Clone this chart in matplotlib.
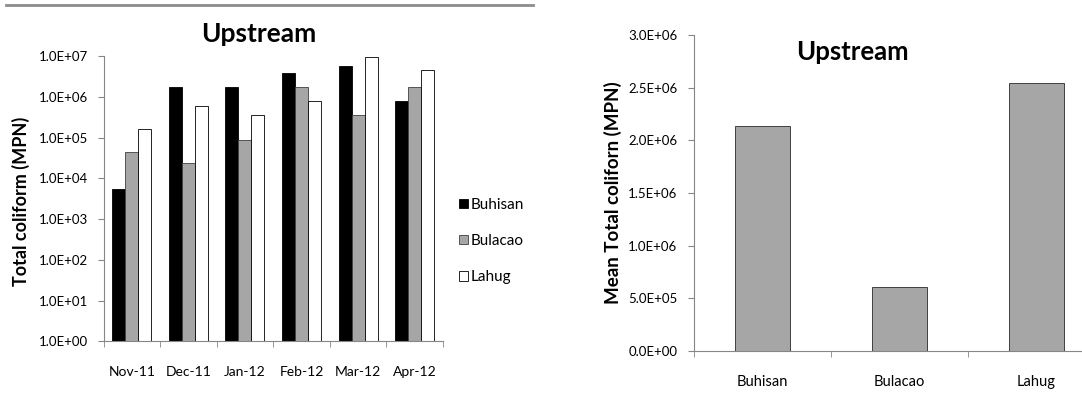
import matplotlib
matplotlib.use("Agg")
import matplotlib.pyplot as plt
import numpy as np
from matplotlib.ticker import FuncFormatter, FixedLocator, LogLocator, NullLocator

plt.rcParams["font.family"] = ["Lato", "DejaVu Sans"]

# 月度总大肠菌群（MPN）
months = ["Nov-11", "Dec-11", "Jan-12", "Feb-12", "Mar-12", "Apr-12"]
buhisan = [5.5e3, 1.7e6, 1.7e6, 3.8e6, 5.8e6, 8.1e5]
bulacao = [4.5e4, 2.4e4, 8.8e4, 1.7e6, 3.6e5, 1.7e6]
lahug = [1.6e5, 5.8e5, 3.6e5, 7.7e5, 9.2e6, 4.6e6]

# 各站点平均值
stations = ["Buhisan", "Bulacao", "Lahug"]
mean_tc = [2.14e6, 6.1e5, 2.54e6]

W, H = 1082, 399
axis_gray = "#868686"
sci_fmt = FuncFormatter(lambda v, p: f"{v:.1E}")

fig = plt.figure(figsize=(W / 100, H / 100), dpi=100)

# 顶部分隔线
fig.add_artist(plt.Line2D([6 / W, 533 / W], [394 / H, 394 / H],
                          color="#8c8c8c", lw=2, transform=fig.transFigure))

# 左图：对数坐标分组柱状图
ax1 = fig.add_axes([103.5 / W, 57.6 / H, 339.5 / W, 285.4 / H])
x = np.arange(len(months))
w = 0.23
ax1.bar(x - w, buhisan, w, color="black", edgecolor="black", lw=0.6, label="Buhisan")
ax1.bar(x, bulacao, w, color="#a6a6a6", edgecolor="#404040", lw=0.6, label="Bulacao")
ax1.bar(x + w, lahug, w, color="white", edgecolor="black", lw=0.6, label="Lahug")
ax1.set_yscale("log")
ax1.set_ylim(1, 1e7)
ax1.set_xlim(-0.5, len(months) - 0.5)
ax1.yaxis.set_major_locator(LogLocator(base=10, numticks=10))
ax1.yaxis.set_minor_locator(NullLocator())
ax1.yaxis.set_major_formatter(sci_fmt)
ax1.set_xticks(x)
ax1.set_xticklabels(months)
ax1.xaxis.set_minor_locator(FixedLocator(np.arange(-0.5, len(months), 1.0)))
ax1.tick_params(axis="x", which="major", length=0, pad=18, labelsize=10)
ax1.tick_params(axis="x", which="minor", length=4, color=axis_gray)
ax1.tick_params(axis="y", length=4, color=axis_gray, labelsize=9.5, pad=7)
for s in ["top", "right"]:
    ax1.spines[s].set_visible(False)
for s in ["left", "bottom"]:
    ax1.spines[s].set_color(axis_gray)
fig.text(21 / W, 1 - 201 / H, "Total coliform (MPN)", rotation=90, ha="center",
         va="center", fontsize=13, fontweight="bold")
fig.text(259 / W, 1 - 34.5 / H, "Upstream", ha="center", va="center",
         fontsize=19, fontweight="bold")
ax1.legend(loc="center left", bbox_to_anchor=(445 / W, 1 - 241 / H),
           bbox_transform=fig.transFigure, frameon=False, fontsize=11,
           handlelength=0.6, handleheight=0.6, handletextpad=0.2, labelspacing=1.45)

# 右图：各站点平均值
ax2 = fig.add_axes([694 / W, 48 / H, 411 / W, 316 / H])
xs = np.arange(len(stations))
ax2.bar(xs, mean_tc, 0.4, color="#a6a6a6", edgecolor="#404040", lw=0.7)
ax2.set_ylim(0, 3e6)
ax2.set_xlim(-0.5, len(stations) - 0.5)
ax2.set_yticks(np.arange(0, 3.01e6, 5e5))
ax2.yaxis.set_major_formatter(sci_fmt)
ax2.set_xticks(xs)
ax2.set_xticklabels(stations)
ax2.xaxis.set_minor_locator(FixedLocator(np.arange(-0.5, len(stations), 1.0)))
ax2.tick_params(axis="x", which="major", length=0, pad=17, labelsize=10.5)
ax2.tick_params(axis="x", which="minor", length=4, color=axis_gray)
ax2.tick_params(axis="y", length=4, color=axis_gray, labelsize=9.5, pad=8)
for s in ["top", "right"]:
    ax2.spines[s].set_visible(False)
for s in ["left", "bottom"]:
    ax2.spines[s].set_color(axis_gray)
fig.text(613 / W, 1 - 193 / H, "Mean Total coliforn (MPN)", rotation=90, ha="center",
         va="center", fontsize=13.5, fontweight="bold")
fig.text(852 / W, 1 - 52 / H, "Upstream", ha="center", va="center",
         fontsize=18.5, fontweight="bold")

fig.savefig("out.png", dpi=100)
